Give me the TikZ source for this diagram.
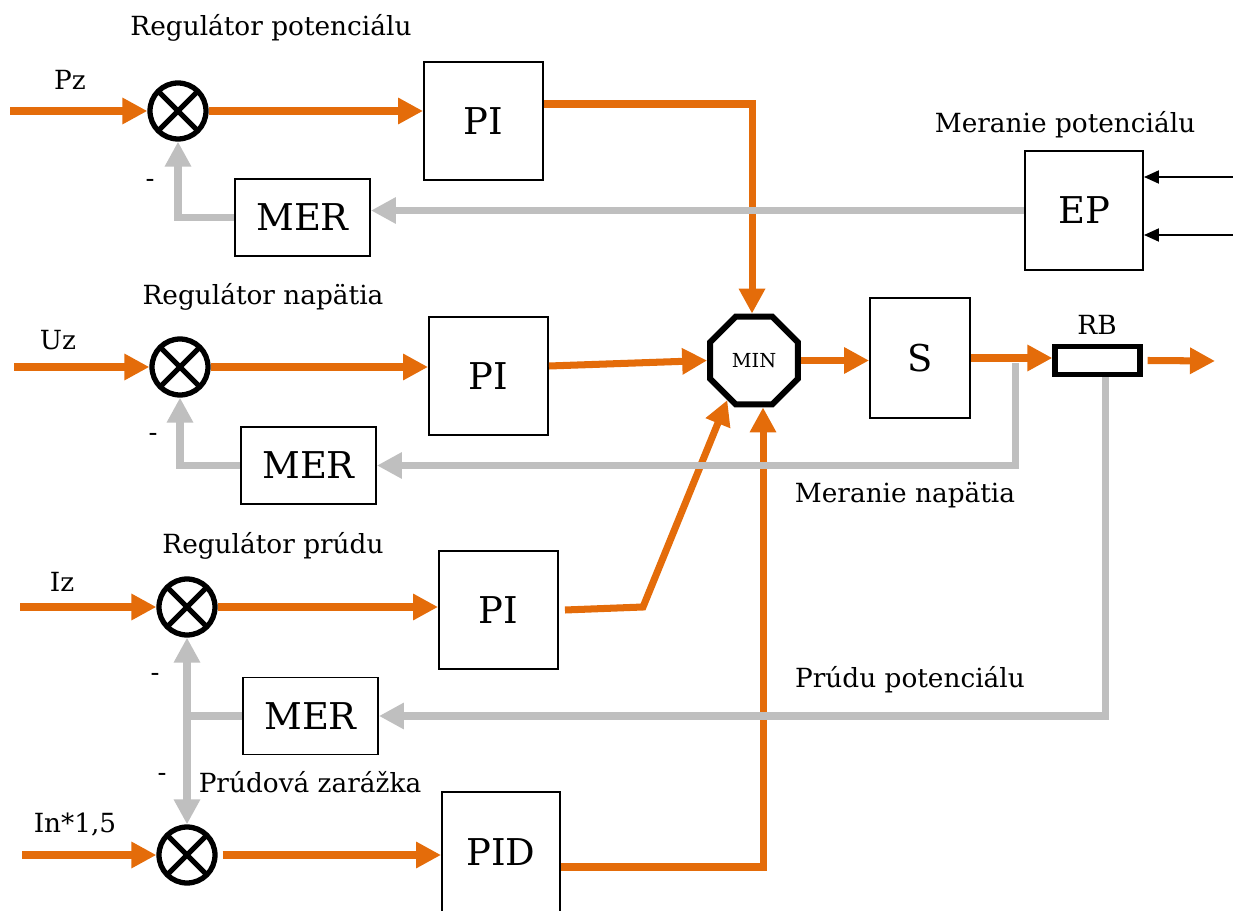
\documentclass[tikz,border=0pt]{standalone}
\usepackage{fontspec}
\setmainfont{DejaVu Serif}
\definecolor{regorange}{HTML}{E46C0A}
\definecolor{reggray}{HTML}{BFBFBF}
\usetikzlibrary{arrows.meta,shapes.geometric}

\tikzset{
  block/.style={draw, line width=1.1pt, minimum width=2.38cm, minimum height=2.36cm,
    inner sep=0pt, font=\fontsize{21}{25}\selectfont},
  merbox/.style={block, minimum width=2.7cm, minimum height=1.54cm},
  summ/.style={circle, draw, line width=3pt, minimum size=1.12cm, inner sep=0pt,
    path picture={\draw[line width=3pt]
      (path picture bounding box.north west) -- (path picture bounding box.south east)
      (path picture bounding box.north east) -- (path picture bounding box.south west);}},
  lbl/.style={font=\fontsize{15}{18}\selectfont},
  sig/.style={regorange, line width=4pt, -{Triangle[length=0.5cm,width=0.5cm]}},
  fb/.style={reggray, line width=4pt, -{Triangle[length=0.5cm,width=0.5cm]}},
}

\begin{document}
\begin{tikzpicture}[x=0.02cm, y=-0.02cm]
    \useasboundingbox (0,0) rectangle (1233,911);

    % Potential regulator
    \node[lbl] (tpot) at (271,28) {Regulátor potenciálu};
    \node[lbl] (lpz) at (70,80) {Pz};
    \coordinate (inpz) at (10,111);
    \node[summ] (s1) at (178,111) {};
    \node[block] (pi1) at (483.5,121) {PI};
    \node[merbox] (mer1) at (302.5,217.5) {MER};
    \node[lbl] (m1) at (150,183) {-};

    % Voltage regulator
    \node[lbl] (tnap) at (263,297) {Regulátor napätia};
    \node[lbl] (luz) at (58,340) {Uz};
    \coordinate (inuz) at (14,367);
    \node[summ] (s2) at (180,367) {};
    \node[block] (pi2) at (488.5,376) {PI};
    \node[merbox] (mer2) at (308.5,465.5) {MER};
    \node[lbl] (m2) at (153,437) {-};

    % Current regulator
    \node[lbl] (tprud) at (273,546) {Regulátor prúdu};
    \node[lbl] (liz) at (62,582) {Iz};
    \coordinate (iniz) at (20,607);
    \node[summ] (s3) at (187,607) {};
    \node[block] (pi3) at (498.5,610) {PI};
    \node[merbox] (mer3) at (310.5,716) {MER};
    \node[lbl] (m3) at (155,677) {-};

    % Current limit
    \node[lbl] (tzar) at (310,782) {Prúdová zarážka};
    \node[lbl] (lin) at (75,825) {In*1,5};
    \coordinate (inin) at (22,855);
    \node[summ] (s4) at (187,855) {};
    \node[block, minimum width=2.36cm, minimum height=2.4cm] (pid) at (501,852) {PID};
    \node[lbl] (m4) at (162,777) {-};

    % Selector, converter and measurement
    \node[regular polygon, regular polygon sides=8, draw, line width=3.4pt,
      minimum size=1.9cm, inner sep=0pt, font=\fontsize{11}{13}\selectfont] (mn) at (754,360.5) {MIN};
    \node[block, minimum width=2cm, minimum height=2.4cm] (s) at (920,358) {S};
    \node[draw, line width=3pt, minimum width=1.7cm, minimum height=0.56cm, inner sep=0pt] (rb) at (1097.5,360.5) {};
    \node[lbl] (lrb) at (1097,325) {RB};
    \coordinate (out) at (1215,361);
    \node[block, minimum height=2.38cm, minimum width=2.36cm] (ep) at (1084,210.5) {EP};
    \node[lbl] (tmpot) at (1065,125) {Meranie potenciálu};
    \node[lbl] (tmnap) at (905,495) {Meranie napätia};
    \node[lbl] (tmprud) at (910,680) {Prúdu potenciálu};
    \coordinate (epin1) at (1233,177);
    \coordinate (epin2) at (1233,235);
    \coordinate (tap) at (1015,363);
    \coordinate (knee) at (643,607);

    % Orange signal path
    \draw[sig] (inpz) -- (s1.west);
    \draw[sig] (s1.east) -- (s1.east -| pi1.west);
    \draw[sig] ([yshift=0.34cm]pi1.east) -| ([xshift=-0.04cm]mn.north);
    \draw[sig] (inuz) -- (s2.west);
    \draw[sig] (s2.east) -- (s2.east -| pi2.west);
    \draw[sig] ([yshift=0.2cm]pi2.east) -- (mn.west);
    \draw[sig] (iniz) -- (s3.west);
    \draw[sig] (s3.east) -- (s3.east -| pi3.west);
    \draw[sig] ([xshift=0.12cm]pi3.east) -- (knee) -- (mn.236);
    \draw[sig] (inin) -- (s4.west);
    \draw[sig] ([xshift=0.1cm]s4.east) -- (s4.east -| pid.west);
    \draw[sig] ([yshift=-0.3cm]pid.east) -| ([xshift=0.18cm]mn.south);
    \draw[sig] (mn.east) -- (mn.east -| s.west);
    \draw[sig] (s.east) -- (s.east -| rb.west);
    \draw[sig] ([xshift=0.1cm]rb.east) -- (out);

    % Gray feedback path
    \draw[fb] (ep.west) -- (ep.west -| mer1.east);
    \draw[fb] (mer1.west) -| (s1.south);
    \draw[fb] (tap) |- (mer2.east);
    \draw[fb] (mer2.west) -| (s2.south);
    \draw[fb] ([xshift=0.15cm]rb.south) |- (mer3.east);
    \draw[reggray, line width=4pt] (mer3.west) -- (mer3.west -| s3.south);
    \draw[fb, {Triangle[length=0.5cm,width=0.5cm]}-{Triangle[length=0.5cm,width=0.5cm]}] (s3.south) -- (s4.north);

    % EP inputs
    \draw[line width=1.1pt, -{Triangle[length=0.3cm,width=0.26cm]}] (epin1) -- (epin1 -| ep.east);
    \draw[line width=1.1pt, -{Triangle[length=0.3cm,width=0.26cm]}] (epin2) -- (epin2 -| ep.east);
  \end{tikzpicture}
\end{document}
